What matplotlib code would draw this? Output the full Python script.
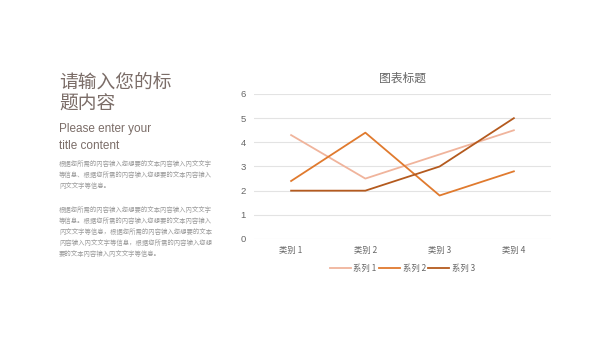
import matplotlib
matplotlib.use("Agg")
import matplotlib.pyplot as plt

plt.rcParams['font.family'] = ['Noto Sans CJK SC', 'DejaVu Sans']

categories = ["类别 1", "类别 2", "类别 3", "类别 4"]
series_names = ["系列 1", "系列 2", "系列 3"]
s1 = [4.3, 2.5, 3.5, 4.5]
s2 = [2.4, 4.4, 1.8, 2.8]
s3 = [2.0, 2.0, 3.0, 5.0]
colors = ["#F0B49C", "#E07A2E", "#B45A1E"]
yticks = [0, 1, 2, 3, 4, 5, 6]

fig = plt.figure(figsize=(6, 3.38), dpi=100)
fig.patch.set_facecolor("white")

ax = fig.add_axes([0.4233, 0.2929, 0.495, 0.429])
x = list(range(len(categories)))
for vals, name, c in zip([s1, s2, s3], series_names, colors):
    ax.plot(x, vals, color=c, lw=1.3, label=name)
ax.set_xlim(-0.5, 3.5)
ax.set_ylim(0, 6)
ax.set_yticks(yticks)
ax.set_xticks(x)
ax.set_xticklabels(categories)
ax.grid(axis='y', color="#E3E3E3", lw=0.8)
ax.set_axisbelow(True)
for s in ax.spines.values():
    s.set_visible(False)
ax.tick_params(length=0, labelsize=6, colors="#666666", pad=5)
ax.tick_params(axis='y', pad=6, labelsize=6.8)
for lbl in ax.get_yticklabels():
    lbl.set_fontfamily(['Liberation Sans', 'DejaVu Sans'])
ax.set_title("图表标题", fontsize=8.5, color="#666666", pad=9)
ax.legend(loc="upper center", bbox_to_anchor=(0.5, -0.12), ncol=3, frameon=False,
          fontsize=6, labelcolor="#666666", handlelength=2.5, columnspacing=0.3,
          handletextpad=0.3)

tc = "#7B6D68"
fig.text(59/600, 1-82/338, "请输入您的标", fontsize=13.5, color=tc, va="center")
fig.text(59/600, 1-104/338, "题内容", fontsize=13.5, color=tc, va="center")
fig.text(59/600, 1-129/338, "Please enter your", fontsize=8.5, color=tc, va="center",
         family=['Liberation Sans', 'DejaVu Sans'])
fig.text(59/600, 1-146/338, "title content", fontsize=8.5, color=tc, va="center",
         family=['Liberation Sans', 'DejaVu Sans'])

p1 = ["根据您所需的内容输入您想要的文本内容输入内文文字",
      "等信息、根据您所需的内容输入您想要的文本内容输入",
      "内文文字等信息。"]
p2 = ["根据您所需的内容输入您想要的文本内容输入内文文字",
      "等信息。根据您所需的内容输入您想要的文本内容输入",
      "内文文字等信息，根据您所需的内容输入您想要的文本",
      "内容输入内文文字等信息，根据您所需的内容输入您想",
      "要的文本内容输入内文文字等信息。"]
pc = "#9A9A9A"
for i, line in enumerate(p1):
    fig.text(59/600, 1-(164+i*11)/338, line, fontsize=4.6, color=pc, va="center")
for i, line in enumerate(p2):
    fig.text(59/600, 1-(210+i*11)/338, line, fontsize=4.6, color=pc, va="center")

fig.savefig("out.png", dpi=100, facecolor="white")
